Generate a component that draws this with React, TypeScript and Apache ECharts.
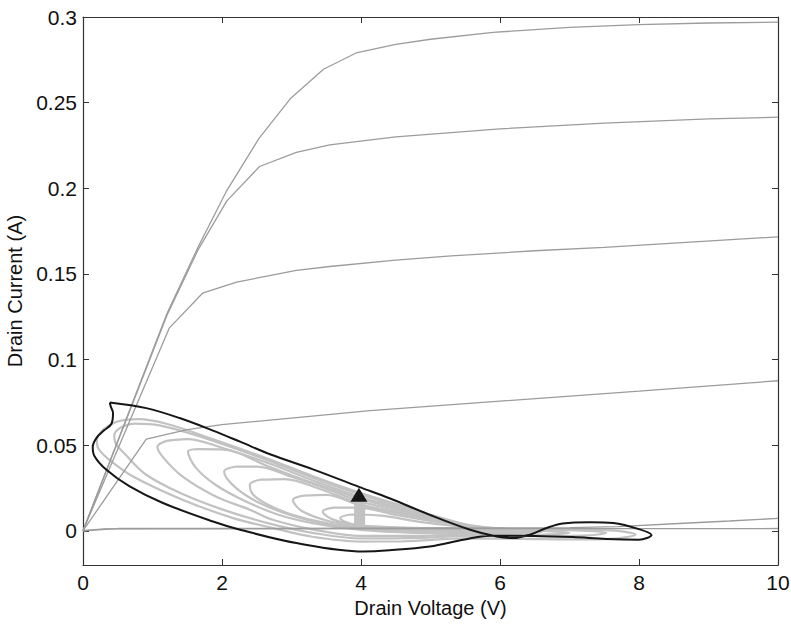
import React, { useEffect, useRef } from "react";
import * as echarts from "echarts";

// Static I-V characteristics (gate-voltage steps)
const ivCurve1 = [[0,0],[1.21,0.127],[1.66,0.166],[2.06,0.198],[2.53,0.229],[2.99,0.2526],[3.46,0.2695],[3.93,0.279],[4.5,0.284],[5.0,0.287],[5.9,0.291],[7.0,0.294],[8.0,0.2955],[9.0,0.2965],[10,0.297]];
const ivCurve2 = [[0,0],[1.21,0.126],[1.655,0.164],[2.07,0.1926],[2.54,0.2127],[3.07,0.221],[3.55,0.2253],[4.5,0.23],[6.0,0.2347],[7.5,0.238],[9.0,0.2405],[10,0.2415]];
const ivCurve3 = [[0,0],[1.24,0.1183],[1.72,0.1387],[2.21,0.1452],[3.07,0.152],[3.55,0.1543],[4.5,0.158],[5.3,0.1605],[6.5,0.1635],[7.5,0.1655],[8.5,0.168],[10,0.1716]];
const ivCurve4 = [[0,0],[0.91,0.0535],[1.5,0.059],[2.0,0.062],[2.73,0.0648],[4.13,0.0702],[6.0,0.0757],[8.0,0.0815],[10,0.0876]];
const ivCurve5 = [[0,0],[0.5,0.0013],[4,0.0015],[7,0.0018],[7.7,0.0024],[8.5,0.0041],[9.3,0.0057],[10,0.0072]];
const ivCurve6 = [[0,0],[0.3,0.0011],[10,0.0013]];

// Dynamic load-line loops (grey family)
const loopG1 = [[0.3,0.0595],[0.5,0.0638],[0.8,0.0652],[1.2,0.0625],[1.8,0.0545],[2.7,0.0415],[3.3,0.032],[4.0,0.022],[4.6,0.0145],[5.0,0.0095],[5.6,0.003],[6.3,0.0009],[7.0,0.0006],[7.6,0.0002],[7.95,-0.0022],[7.6,-0.0047],[7.0,-0.005],[6.3,-0.0047],[5.5,-0.0045],[4.6,-0.0062],[4.0,-0.0063],[3.3,-0.0035],[2.73,0.0016],[2.16,0.0074],[1.44,0.018],[0.72,0.0317],[0.38,0.0414],[0.22,0.048],[0.2,0.053],[0.3,0.0595]];
const loopG2 = [[0.55,0.0605],[0.75,0.0625],[1.1,0.0615],[1.8,0.0535],[2.7,0.0405],[3.3,0.031],[4.0,0.021],[4.6,0.0138],[5.0,0.009],[5.6,0.0028],[6.3,0.0006],[7.0,0.0003],[7.53,-0.0012],[7.2,-0.0029],[6.5,-0.0031],[5.6,-0.0028],[4.8,-0.0042],[4.0,-0.0045],[3.3,-0.0012],[2.7,0.004],[2.0,0.0125],[1.4,0.022],[0.9,0.033],[0.6,0.045],[0.47,0.051],[0.45,0.056],[0.55,0.0605]];
const loopG3 = [[1.2,0.0525],[1.5,0.0535],[2.0,0.0485],[2.7,0.039],[3.3,0.0295],[4.0,0.0195],[4.6,0.013],[5.0,0.0085],[5.6,0.0026],[6.3,0.0004],[7.0,-0.0012],[6.5,-0.0024],[5.6,-0.002],[4.8,-0.003],[4.0,-0.003],[3.3,0.0008],[2.73,0.0064],[2.4,0.0123],[1.91,0.02],[1.43,0.0317],[1.15,0.043],[1.07,0.049],[1.2,0.0525]];
const loopG4 = [[1.68,0.0477],[2.0,0.0475],[2.7,0.037],[3.3,0.028],[4.0,0.0185],[4.6,0.0122],[5.0,0.008],[5.6,0.0024],[6.2,0.0002],[6.6,-0.0008],[6.1,-0.0017],[5.5,-0.0015],[4.8,-0.0012],[4.0,0.0005],[3.3,0.0045],[2.8,0.0095],[2.3,0.018],[1.9,0.027],[1.62,0.037],[1.51,0.0463],[1.68,0.0477]];
const loopG5 = [[2.2,0.0375],[2.5,0.0375],[3.0,0.0315],[3.5,0.0245],[4.0,0.017],[4.6,0.0113],[5.0,0.0075],[5.6,0.0022],[6.1,0.0002],[6.4,-0.0003],[6.0,-0.0009],[5.5,-0.0008],[4.8,-0.0002],[4.0,0.001],[3.5,0.004],[3.0,0.009],[2.55,0.016],[2.2,0.025],[2.03,0.0346],[2.2,0.0375]];
const loopG6 = [[2.55,0.0298],[2.9,0.0302],[3.4,0.0245],[4.0,0.0155],[4.6,0.0103],[5.0,0.007],[5.6,0.002],[6.0,0.0004],[6.2,0.0],[5.8,-0.0003],[5.2,0.0],[4.6,0.0006],[4.0,0.002],[3.5,0.0045],[3.0,0.0095],[2.65,0.0155],[2.45,0.021],[2.4,0.0269],[2.55,0.0298]];
const loopG7 = [[3.18,0.0205],[3.5,0.021],[4.0,0.0145],[4.6,0.0095],[5.0,0.0065],[5.6,0.0019],[6.0,0.0005],[5.6,0.0006],[5.0,0.0008],[4.4,0.0015],[3.9,0.003],[3.5,0.006],[3.15,0.0115],[3.02,0.018],[3.18,0.0205]];
const loopG8 = [[3.6,0.0135],[3.95,0.0135],[4.5,0.0092],[5.0,0.0058],[5.6,0.0018],[5.2,0.0011],[4.6,0.0017],[4.0,0.003],[3.6,0.0065],[3.45,0.0113],[3.6,0.0135]];
const loopG9 = [[3.85,0.0095],[4.3,0.0088],[4.8,0.0055],[5.5,0.0018],[5.0,0.0016],[4.4,0.0022],[3.9,0.0035],[3.7,0.0075],[3.85,0.0095]];
const startBar = [[3.98,0.0016],[3.98,0.0171]];

// Highlighted (black) loop and its marker
const loopBlack = [[0.385,0.0749],[0.91,0.0716],[1.39,0.0658],[1.87,0.0585],[2.26,0.052],[2.7,0.0445],[3.3,0.036],[3.98,0.0255],[4.41,0.019],[4.99,0.0093],[5.57,0.0006],[5.95,-0.0033],[6.19,-0.0043],[6.43,-0.0023],[6.67,0.0016],[6.9,0.0042],[7.3,0.005],[7.63,0.0045],[8.01,0.0008],[8.18,-0.0025],[8.0,-0.0052],[7.53,-0.0048],[7.05,-0.0037],[6.5,-0.003],[5.85,-0.0029],[5.47,-0.0053],[4.99,-0.0092],[4.41,-0.0114],[4.03,-0.0121],[3.07,-0.0072],[2.26,0.0006],[1.87,0.0054],[1.15,0.0162],[0.672,0.0259],[0.337,0.0356],[0.16,0.044],[0.14,0.049],[0.2,0.0545],[0.3,0.0585],[0.41,0.0625],[0.432,0.0687],[0.4,0.0725],[0.385,0.0749]];
const marker = [[3.97,0.021]];

const xTicks = [0, 2, 4, 6, 8, 10];
const yTicks = [0, 0.05, 0.1, 0.15, 0.2, 0.25, 0.3];

const FONT = "'Liberation Sans', Arial, Helvetica, sans-serif";
const TICK_FS = 21;
const NAME_FS = 20;

export default function App() {
  const ref = useRef<HTMLDivElement>(null);
  useEffect(() => {
    if (!ref.current) return;
    const chart = echarts.init(ref.current, null, { renderer: "svg" });
    const axisLine = { show: true, onZero: false, lineStyle: { color: "#333", width: 1.2 } };
    const xBase = {
      type: "value",
      min: 0,
      max: 10,
      interval: 2,
      axisLine,
      splitLine: { show: false },
      axisTick: { show: true, inside: true, length: 6, customValues: xTicks, lineStyle: { color: "#333" } },
    };
    const yBase = {
      type: "value",
      min: -0.02,
      max: 0.3,
      axisLine,
      splitLine: { show: false },
      axisTick: { show: true, inside: true, length: 6, customValues: yTicks, lineStyle: { color: "#333" } },
    };
    const greyLoops = [loopG1, loopG2, loopG3, loopG4, loopG5, loopG6, loopG7, loopG8, loopG9];
    const ivCurves = [ivCurve1, ivCurve2, ivCurve3, ivCurve4, ivCurve5, ivCurve6];
    const series: any[] = [];
    greyLoops.forEach((d) =>
      series.push({
        type: "line",
        data: d,
        showSymbol: false,
        smooth: 0.35,
        lineStyle: { color: "#c2c2c2", width: 2.2 },
        silent: true,
      })
    );
    series.push({
      type: "line",
      data: startBar,
      showSymbol: false,
      lineStyle: { color: "#c2c2c2", width: 11, cap: "butt" },
      silent: true,
    });
    ivCurves.forEach((d) =>
      series.push({
        type: "line",
        data: d,
        showSymbol: false,
        lineStyle: { color: "#9c9c9c", width: 1.3 },
        silent: true,
      })
    );
    series.push({
      type: "line",
      data: loopBlack,
      showSymbol: false,
      smooth: 0.35,
      lineStyle: { color: "#161616", width: 2 },
      silent: true,
    });
    series.push({
      type: "line",
      data: marker,
      showSymbol: true,
      showAllSymbol: true,
      symbol: "triangle",
      symbolSize: [17, 14],
      itemStyle: { color: "#161616", borderWidth: 0 },
      lineStyle: { width: 0 },
      z: 10,
      silent: true,
    });
    chart.setOption({
      animation: false,
      backgroundColor: "#fff",
      grid: { left: 83, right: 13, top: 17, bottom: 60, containLabel: false, outerBoundsMode: "none" },
      xAxis: [
        {
          ...xBase,
          position: "bottom",
          name: "Drain Voltage (V)",
          nameLocation: "middle",
          nameGap: 31,
          nameTextStyle: { fontSize: NAME_FS, color: "#111", fontFamily: FONT },
          axisLabel: { show: true, fontSize: TICK_FS, color: "#111", margin: 7, fontFamily: FONT },
        },
        { ...xBase, position: "top", axisLabel: { show: false } },
      ],
      yAxis: [
        {
          ...yBase,
          position: "left",
          name: "Drain Current (A)",
          nameLocation: "middle",
          nameGap: 54,
          nameTextStyle: { fontSize: NAME_FS, color: "#111", fontFamily: FONT },
          axisLabel: {
            show: true,
            fontSize: TICK_FS,
            color: "#111",
            margin: 6,
            fontFamily: FONT,
            customValues: yTicks,
            formatter: (v: number) => String(+Number(v).toFixed(2)),
          },
        },
        { ...yBase, position: "right", axisLabel: { show: false } },
      ],
      series,
    });
    return () => chart.dispose();
  }, []);
  return (
    <div
      ref={ref}
      style={{ position: "fixed", left: 0, top: 0, width: 791, height: 625, background: "#fff" }}
    />
  );
}
